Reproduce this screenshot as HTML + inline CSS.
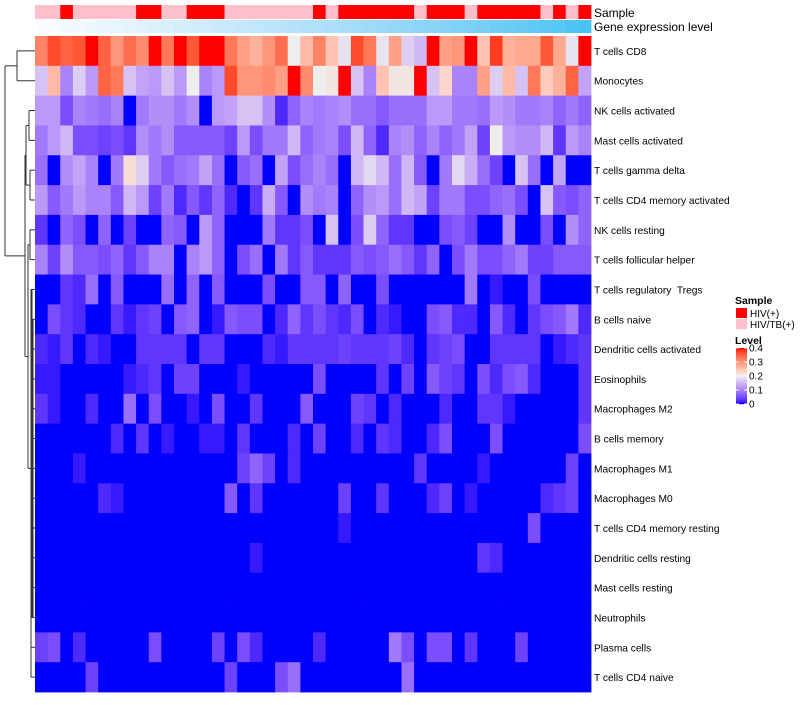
<!DOCTYPE html>
<html><head><meta charset="utf-8"><style>
body{margin:0;background:#fff;width:800px;height:700px;overflow:hidden;font-family:"Liberation Sans",sans-serif}
text{white-space:pre}
</style></head><body>
<svg id="chart" width="800" height="700" xmlns="http://www.w3.org/2000/svg"></svg>
<script>
const rowLabels=["T cells CD8","Monocytes","NK cells activated","Mast cells activated","T cells gamma delta","T cells CD4 memory activated","NK cells resting","T cells follicular helper","T cells regulatory  Tregs","B cells naive","Dendritic cells activated","Eosinophils","Macrophages M2","B cells memory","Macrophages M1","Macrophages M0","T cells CD4 memory resting","Dendritic cells resting","Mast cells resting","Neutrophils","Plasma cells","T cells CD4 naive"];
const sampleGroups=["TB","TB","HIV","TB","TB","TB","TB","TB","HIV","HIV","TB","TB","HIV","HIV","HIV","TB","TB","TB","TB","TB","TB","TB","HIV","TB","HIV","HIV","HIV","HIV","HIV","HIV","TB","HIV","HIV","HIV","TB","HIV","HIV","HIV","HIV","HIV","TB","HIV","TB","HIV"];
const geneLevel=[0,2,5,7,9,12,14,16,19,21,23,26,28,30,33,35,37,40,42,44,47,49,51,53,56,58,60,63,65,67,70,72,74,77,79,81,84,86,88,91,93,95,98,100];
const legendTicks=[0.4,0.3,0.2,0.1,0];
const row0=[0.32,0.37,0.35,0.36,0.4,0.35,0.3,0.34,0.31,0.4,0.33,0.4,0.36,0.4,0.4,0.33,0.29,0.27,0.3,0.34,0.2,0.26,0.32,0.25,0.19,0.37,0.33,0.19,0.29,0.17,0.15,0.4,0.29,0.3,0.4,0.25,0.38,0.27,0.28,0.28,0.36,0.28,0.19,0.4];
const row1=[0.16,0.26,0.1,0.17,0.12,0.35,0.33,0.16,0.13,0.12,0.16,0.12,0.2,0.1,0.12,0.37,0.3,0.3,0.31,0.29,0.4,0.31,0.2,0.21,0.4,0.16,0.1,0.25,0.21,0.21,0.4,0.16,0.23,0.1,0.1,0.29,0.17,0.26,0.16,0.33,0.24,0.27,0.35,0.13];
const row2=[0.12,0.12,0.05,0.1,0.09,0.08,0.1,0,0.09,0.11,0.11,0.09,0.11,0,0.12,0.13,0.16,0.16,0.11,0.02,0.07,0.1,0.09,0.1,0.11,0.08,0.08,0.06,0.08,0.08,0.08,0.12,0.12,0.09,0.09,0.08,0.12,0.11,0.09,0.09,0.1,0.07,0.09,0.07];
const row3=[0.09,0.12,0.15,0.05,0.05,0.04,0.05,0.03,0.11,0.09,0.11,0.06,0.06,0.06,0.06,0.04,0.12,0.05,0.09,0.09,0.15,0.07,0.09,0.1,0.05,0.15,0.07,0.02,0.1,0.11,0.07,0.1,0.07,0.09,0.13,0.04,0.2,0.12,0.11,0.11,0.15,0.03,0.12,0.1];
const row4=[0.08,0,0.11,0.13,0.1,0,0.09,0.22,0.17,0.09,0.06,0.08,0.09,0.13,0.08,0,0.06,0.08,0,0.13,0.05,0.08,0.1,0.08,0,0.15,0.18,0.15,0.08,0.15,0.06,0,0.09,0.18,0.14,0.08,0.04,0,0.16,0.08,0,0.13,0,0];
const row5=[0.12,0.06,0.09,0.12,0.1,0.1,0.06,0.15,0.12,0.04,0.09,0.02,0.06,0.03,0.07,0.02,0,0.03,0.14,0.06,0,0.11,0.09,0.1,0,0.07,0.11,0.12,0.08,0.15,0.13,0.04,0.09,0.09,0.05,0.05,0.07,0.08,0.05,0,0.16,0.06,0.05,0.07];
const row6=[0.03,0,0.07,0.05,0,0.07,0,0.04,0,0,0.07,0.06,0,0.12,0.07,0,0,0,0.09,0.03,0.03,0.05,0,0.16,0,0.05,0.17,0.07,0.03,0.03,0,0,0.05,0.06,0.04,0,0,0.11,0,0,0.05,0,0.11,0.07];
const row7=[0.1,0.04,0.11,0.06,0.06,0.05,0.07,0.03,0.06,0.1,0.1,0,0.1,0.12,0.07,0,0.05,0.08,0,0.09,0.03,0.06,0.03,0.03,0.03,0.06,0.05,0.06,0.08,0.06,0.03,0.07,0,0.05,0.09,0.05,0.05,0.07,0.09,0.04,0.04,0.06,0.06,0.06];
const row8=[0,0,0.03,0.02,0.08,0,0.06,0,0,0,0.08,0,0.07,0,0.06,0,0,0,0.05,0,0,0.06,0.06,0,0.07,0,0,0.05,0,0,0,0,0,0,0.09,0,0.01,0,0,0.05,0,0,0,0];
const row9=[0,0.05,0.03,0.02,0,0,0.03,0.01,0.03,0.04,0,0.06,0.07,0,0.01,0.06,0.05,0.05,0,0.02,0.07,0.03,0.05,0.03,0.02,0.05,0,0.02,0.01,0,0,0.05,0.06,0.02,0.02,0,0.06,0.02,0,0.03,0.05,0.06,0.09,0.02];
const row10=[0.02,0.01,0.03,0,0.02,0.01,0,0,0.03,0.03,0.03,0.03,0,0.03,0.03,0,0,0,0.02,0.01,0.03,0.03,0.03,0.03,0.04,0.03,0.03,0.03,0.04,0.02,0,0.03,0.04,0.05,0,0,0.03,0.03,0.03,0.03,0,0.01,0.02,0.03];
const row11=[0.01,0.01,0,0,0,0,0,0.01,0.02,0.03,0,0.04,0.04,0,0,0,0.01,0,0,0,0,0,0.05,0,0,0,0,0.03,0,0.04,0,0.06,0.04,0.03,0,0.05,0.02,0.05,0.06,0.02,0,0,0,0.03];
const row12=[0.03,0.01,0,0,0.02,0,0,0.08,0,0.05,0,0,0.01,0,0.05,0,0,0.03,0,0,0,0.06,0,0,0,0.04,0.03,0,0.02,0,0,0,0.02,0,0,0.03,0.03,0.01,0,0,0,0,0,0.03];
const row13=[0,0,0,0,0,0,0.02,0,0.03,0,0.01,0,0,0.01,0.01,0,0.03,0,0,0,0.02,0,0.04,0,0,0.02,0,0.03,0.02,0,0,0.02,0.05,0,0,0,0.05,0,0,0,0,0,0,0.05];
const row14=[0,0,0,0.01,0,0,0,0,0,0,0,0,0,0,0,0,0.04,0.07,0.04,0,0.02,0,0,0,0,0,0,0,0,0,0.03,0,0,0,0,0.01,0,0,0,0,0,0,0.04,0];
const row15=[0,0,0,0,0,0.02,0.01,0,0,0,0,0,0,0,0,0.06,0,0.03,0,0,0,0,0,0,0.04,0,0,0.03,0,0,0,0.02,0.04,0,0.01,0,0,0,0,0,0.02,0.03,0.04,0];
const row16=[0,0,0,0,0,0,0,0,0,0,0,0,0,0,0,0,0,0,0,0,0,0,0,0,0.01,0,0,0,0,0,0,0,0,0,0,0,0,0,0,0.05,0,0,0,0];
const row17=[0,0,0,0,0,0,0,0,0,0,0,0,0,0,0,0,0,0.01,0,0,0,0,0,0,0,0,0,0,0,0,0,0,0,0,0,0.03,0.02,0,0,0,0,0,0,0];
const row18=[0,0,0,0,0,0,0,0,0,0,0,0,0,0,0,0,0,0,0,0,0,0,0,0,0,0,0,0,0,0,0,0,0,0,0,0,0,0,0,0,0,0,0,0];
const row19=[0,0,0,0,0,0,0,0,0,0,0,0,0,0,0,0,0,0,0,0,0,0,0,0,0,0,0,0,0,0,0,0,0,0,0,0,0,0,0,0,0,0,0,0];
const row20=[0.04,0.05,0,0.02,0,0,0,0,0,0.05,0,0,0,0,0.04,0,0.05,0.02,0,0,0,0,0.02,0,0,0,0,0,0.09,0.05,0,0.05,0.05,0,0.03,0,0,0,0.04,0,0,0,0,0];
const row21=[0,0,0,0,0.04,0,0,0,0,0,0,0,0,0,0,0.04,0,0,0,0.05,0.08,0,0,0,0,0,0,0,0,0.08,0,0,0,0,0,0,0,0,0,0,0,0,0,0];
const matrix=[row0,row1,row2,row3,row4,row5,row6,row7,row8,row9,row10,row11,row12,row13,row14,row15,row16,row17,row18,row19,row20,row21];

const NS="http://www.w3.org/2000/svg";
const svg=document.getElementById('chart');
function mk(tag,attrs,parent){const e=document.createElementNS(NS,tag);for(const k in attrs)e.setAttribute(k,attrs[k]);(parent||svg).appendChild(e);return e;}
function toLin(c){c/=255;return c<=0.04045?c/12.92:Math.pow((c+0.055)/1.055,2.4);}
function fromLin(c){c=c<=0.0031308?12.92*c:1.055*Math.pow(c,1/2.4)-0.055;return Math.max(0,Math.min(255,Math.round(c*255)));}
function rgb2lab(r,g,b){r=toLin(r);g=toLin(g);b=toLin(b);let x=(r*0.4124+g*0.3576+b*0.1805)/0.95047,y=r*0.2126+g*0.7152+b*0.0722,z=(r*0.0193+g*0.1192+b*0.9505)/1.08883;const f=t=>t>0.008856?Math.cbrt(t):7.787*t+16/116;x=f(x);y=f(y);z=f(z);return[116*y-16,500*(x-y),200*(y-z)];}
function lab2rgb(L,a,bb){let y=(L+16)/116,x=a/500+y,z=y-bb/200;const fi=t=>t*t*t>0.008856?t*t*t:(t-16/116)/7.787;x=fi(x)*0.95047;y=fi(y);z=fi(z)*1.08883;const r=x*3.2406+y*-1.5372+z*-0.4986,g=x*-0.9689+y*1.8758+z*0.0415,b=x*0.0557+y*-0.2040+z*1.0570;return`rgb(${fromLin(r)},${fromLin(g)},${fromLin(b)})`;}
const cBlue=rgb2lab(0,0,255),cMid=rgb2lab(238,238,238),cRed=rgb2lab(255,0,0);
function mix(a,b,t){return lab2rgb(a[0]+(b[0]-a[0])*t,a[1]+(b[1]-a[1])*t,a[2]+(b[2]-a[2])*t);}
function colorScale(v){v=Math.max(0,Math.min(0.4,v));return v<=0.2?mix(cBlue,cMid,v/0.2):mix(cMid,cRed,(v-0.2)/0.2);}
const gLo=rgb2lab(250,253,255),gHi=rgb2lab(72,196,244);
function geneColor(v){return mix(gLo,gHi,v/100);}

const X0=35,X1=591,Y0=36,Y1=692;
const nC=sampleGroups.length,nR=rowLabels.length;
const cw=(X1-X0)/nC,rh=(Y1-Y0)/nR;
const xPos=i=>X0+i*cw, yPos=j=>Y0+j*rh;

const annS=mk('g',{});
sampleGroups.forEach((s,i)=>{const r=mk('rect',{x:xPos(i),y:5,width:cw+0.4,height:14,fill:s==='HIV'?'#FF0000':'#FFC0CB'},annS);

});
const annG=mk('g',{});
geneLevel.forEach((v,i)=>{const r=mk('rect',{x:xPos(i),y:20,width:cw+0.4,height:13,fill:geneColor(v)},annG);

});
let t=mk('text',{x:594,y:17,'font-size':12});t.textContent='Sample';
t=mk('text',{x:594,y:31,'font-size':12});t.textContent='Gene expression level';

const hm=mk('g',{});
matrix.forEach((row,j)=>row.forEach((v,i)=>{const r=mk('rect',{x:xPos(i),y:yPos(j),width:cw+0.4,height:rh+0.4,fill:colorScale(v)},hm);

}));
rowLabels.forEach((l,j)=>{const e=mk('text',{x:594,y:yPos(j)+rh/2+4,'font-size':10.2,fill:'#000'});e.textContent=l;

});

const dg=mk('g',{stroke:'#333','stroke-width':1,fill:'none'});
const cy=j=>yPos(j)+rh/2;
function seg(x1,y1,x2,y2){mk('line',{x1,y1,x2,y2},dg);}
seg(17,cy(0),35,cy(0));seg(17,cy(1),35,cy(1));seg(17,cy(0),17,cy(1));
const topMid=(cy(0)+cy(1))/2;
seg(5,topMid,17,topMid);
seg(29,cy(2),35,cy(2));seg(29,cy(3),35,cy(3));seg(29,cy(2),29,cy(3));
seg(30,cy(4),35,cy(4));seg(30,cy(5),35,cy(5));seg(30,cy(4),30,cy(5));
seg(26,(cy(2)+cy(3))/2,29,(cy(2)+cy(3))/2);seg(26,(cy(4)+cy(5))/2,30,(cy(4)+cy(5))/2);seg(26,(cy(2)+cy(3))/2,26,(cy(4)+cy(5))/2);
seg(30,cy(6),35,cy(6));seg(30,cy(7),35,cy(7));seg(30,cy(6),30,cy(7));
for(let j=8;j<nR;j++){seg(31,cy(j),35,cy(j));}
seg(31,cy(8),31,cy(21));seg(32,cy(8),32,cy(19));seg(33,cy(9),33,cy(19));
seg(28,(cy(6)+cy(7))/2,30,(cy(6)+cy(7))/2);seg(28,cy(14),31,cy(14));seg(28,(cy(6)+cy(7))/2,28,cy(14));
const low1=((cy(2)+cy(3))/2+(cy(4)+cy(5))/2)/2;const low2=((cy(6)+cy(7))/2+cy(14))/2;
seg(25,low1,26,low1);seg(25,low2,28,low2);seg(25,low1,25,low2);
const lowMid=(low1+low2)/2;
seg(5,lowMid,25,lowMid);seg(5,topMid,5,lowMid);

const lg=mk('g',{});
t=mk('text',{x:735,y:304,'font-size':10.5,'font-weight':'bold'},lg);t.textContent='Sample';
let r=mk('rect',{x:736,y:308,width:11,height:10,fill:'#FF0000'},lg);
t=mk('text',{x:750,y:317,'font-size':10},lg);t.textContent='HIV(+)';
r=mk('rect',{x:736,y:319,width:11,height:10,fill:'#FFC0CB'},lg);
t=mk('text',{x:750,y:328,'font-size':10},lg);t.textContent='HIV/TB(+)';
t=mk('text',{x:735,y:344,'font-size':10.5,'font-weight':'bold'},lg);t.textContent='Level';
const LB0=348,LB1=404;
for(let k=0;k<56;k++){const v=0.4*(1-k/55);mk('rect',{x:736,y:LB0+k,width:11,height:1.2,fill:colorScale(v)},lg);}
legendTicks.forEach(v=>{const y=LB1-(v/0.4)*(LB1-LB0);
mk('line',{x1:736,y1:y,x2:739,y2:y,stroke:'#fff','stroke-width':1},lg);mk('line',{x1:744,y1:y,x2:747,y2:y,stroke:'#fff','stroke-width':1},lg);
const e=mk('text',{x:749,y:y+3.5,'font-size':10},lg);e.textContent=String(v);

});
</script>
</body></html>
